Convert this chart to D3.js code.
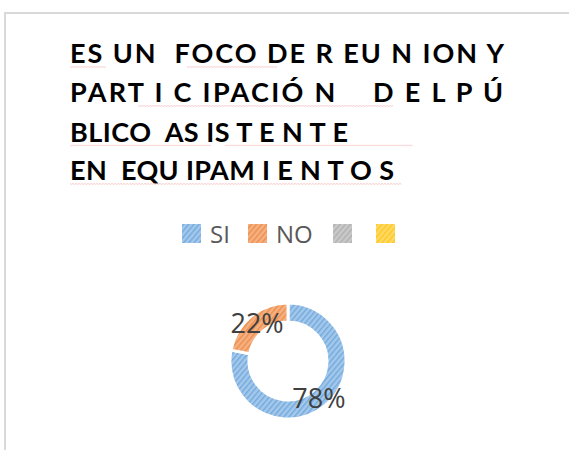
<!DOCTYPE html>
<html>
<head>
<meta charset="utf-8">
<script src="https://cdn.jsdelivr.net/npm/d3@7"></script>
<style>
  html, body { margin: 0; padding: 0; background: #fff; }
  svg { display: block; }
</style>
</head>
<body>
<script>
// ---- data ----
const titleLines = [
  "ES UN  FOCO DE R EU N ION Y",
  "PART I C IPACIÓ N    D E L P Ú",
  "BLICO  AS IS T E N T E",
  "EN  EQU IPAM I E N T O S"
];
const categories = ["SI", "NO", "", ""];
const values = [78, 22, 0, 0];
const baseColors = ["#A4C8EC", "#F4B183", "#C9C9C9", "#FFD966"];
const stripeColors = ["#5B9BD5", "#ED7D31", "#A5A5A5", "#FFC000"];

// ---- layout ----
const W = 569, H = 450;
const svg = d3.select("body").append("svg").attr("width", W).attr("height", H);

// patterns
const defs = svg.append("defs");
categories.forEach((c, i) => {
  const p = defs.append("pattern")
    .attr("id", "pat" + i)
    .attr("patternUnits", "userSpaceOnUse")
    .attr("width", 4).attr("height", 4)
    .attr("patternTransform", "rotate(40)");
  p.append("rect").attr("width", 4).attr("height", 4).attr("fill", baseColors[i]);
  p.append("rect").attr("x", 0).attr("width", 1.4).attr("height", 4).attr("fill", stripeColors[i]).attr("opacity", 0.7);
});

// chart border (cropped chart area)
svg.append("rect")
  .attr("x", 5).attr("y", 13)
  .attr("width", W + 20).attr("height", H + 20)
  .attr("fill", "none").attr("stroke", "#D9D9D9").attr("stroke-width", 2);

// title
const titleX = 70;
const titleBaselines = [63, 102, 141.5, 180];
const titleWidths = [434, 433, 278, 324];
const tg = svg.append("g");
titleLines.forEach((t, i) => {
  tg.append("text")
    .attr("x", titleX).attr("y", titleBaselines[i])
    .attr("xml:space", "preserve")
    .style("white-space", "pre")
    .attr("font-family", "Lato, sans-serif")
    .attr("font-weight", 700)
    .attr("font-size", 27)
    .attr("fill", "#000")
    .attr("textLength", titleWidths[i])
    .attr("lengthAdjust", "spacing")
    .text(t);
});

// spelling squiggles
const squiggles = [
  [0, 70, 107], [0, 187, 278],
  [1, 138, 393],
  [2, 70, 212], [2, 225, 413],
  [3, 70, 402]
];
squiggles.forEach(([li, x0, x1]) => {
  const y = titleBaselines[li] + 3.5;
  const pts = [];
  for (let x = x0, k = 0; x <= x1; x += 1.5, k++) pts.push([x, y + (k % 2 ? 0.8 : 0)]);
  svg.append("path")
    .attr("d", d3.line()(pts))
    .attr("fill", "none")
    .attr("stroke", "#F08080")
    .attr("stroke-width", 0.7)
    .attr("opacity", 0.55);
});

// legend
const legendX = [182, 248, 333, 376];
const legendY = 224, sq = 19;
const lg = svg.append("g");
categories.forEach((c, i) => {
  lg.append("rect")
    .attr("x", legendX[i]).attr("y", legendY)
    .attr("width", sq).attr("height", sq)
    .attr("fill", `url(#pat${i})`);
  if (c) {
    lg.append("text")
      .attr("x", legendX[i] + sq + 9)
      .attr("y", legendY + sq)
      .attr("font-family", "'Open Sans', sans-serif")
      .attr("font-size", 24)
      .attr("fill", "#595959")
      .text(c);
  }
});

// donut
const cx = 288, cy = 361, rOuter = 58, rInner = 39;
const total = d3.sum(values);
const pie = d3.pie().sort(null).value(d => d.v);
const arcs = pie(categories.map((c, i) => ({ c, v: values[i], i })));
const arc = d3.arc().innerRadius(rInner).outerRadius(rOuter);
const g = svg.append("g").attr("transform", `translate(${cx},${cy})`);
g.selectAll("path.slice")
  .data(arcs.filter(d => d.data.v > 0))
  .join("path")
  .attr("class", "slice")
  .attr("d", arc)
  .attr("fill", d => `url(#pat${d.data.i})`)
  .attr("stroke", "#fff")
  .attr("stroke-width", 3);

g.selectAll("text.lbl")
  .data(arcs.filter(d => d.data.v > 0))
  .join("text")
  .attr("class", "lbl")
  .attr("transform", d => `translate(${arc.centroid(d)})`)
  .attr("text-anchor", "middle")
  .attr("dy", "0.36em")
  .attr("font-family", "'Open Sans', sans-serif")
  .attr("font-size", 27)
  .attr("fill", "#404040")
  .text(d => Math.round(d.data.v / total * 100) + "%");
</script>
</body>
</html>
